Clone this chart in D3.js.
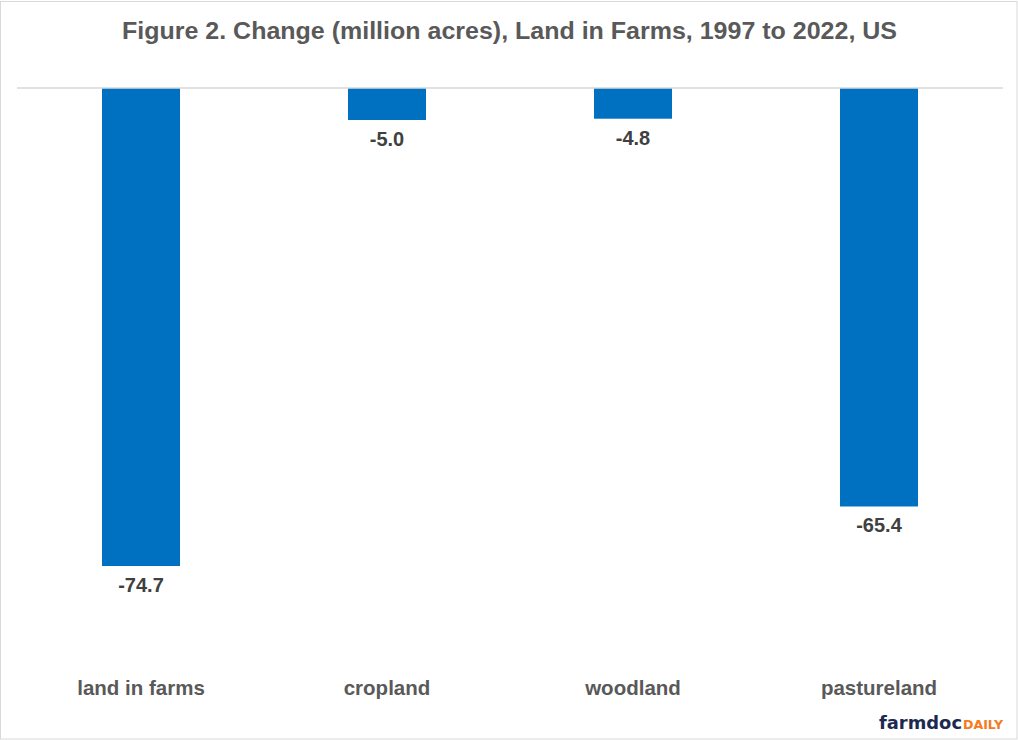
<!DOCTYPE html>
<html><head><meta charset="utf-8">
<script src="https://cdn.jsdelivr.net/npm/d3@7"></script>
<style>body{margin:0;background:#fff}svg{display:block}</style>
</head><body>
<script>
const categories = ["land in farms", "cropland", "woodland", "pastureland"];
const values = [-74.7, -5.0, -4.8, -65.4];
const labels = ["-74.7", "-5.0", "-4.8", "-65.4"];
const titleText = "Figure 2. Change (million acres), Land in Farms, 1997 to 2022, US";

const W = 1018, H = 740;
const svg = d3.select("body").append("svg").attr("width", W).attr("height", H);
svg.append("rect").attr("x", 0.5).attr("y", 1.5).attr("width", W - 1.5).attr("height", H - 2.5)
  .attr("fill", "#fff").attr("stroke", "#d9d9d9");

const x = d3.scaleBand().domain(categories).range([18, 1002]).paddingInner(0.683).paddingOuter(0.3415);
const y = d3.scaleLinear().domain([0, -74.7]).range([88, 566]);

svg.append("text").attr("x", 509.5).attr("y", 39).attr("text-anchor", "middle")
  .attr("font-family", "'Liberation Sans', Arial, sans-serif")
  .attr("textLength", 775).attr("lengthAdjust", "spacingAndGlyphs")
  .attr("font-weight", "bold").attr("font-size", 23).attr("fill", "#595959").text(titleText);

svg.selectAll("rect.bar").data(values).join("rect").attr("class", "bar")
  .attr("x", (d, i) => x(categories[i])).attr("width", x.bandwidth())
  .attr("y", y(0)).attr("height", d => y(d) - y(0)).attr("fill", "#0070c0");

svg.append("line").attr("x1", 17).attr("x2", 1003).attr("y1", 88).attr("y2", 88)
  .attr("stroke", "#d9d9d9").attr("stroke-width", 1.5);

svg.selectAll("text.val").data(values).join("text").attr("class", "val")
  .attr("x", (d, i) => x(categories[i]) + x.bandwidth() / 2).attr("y", d => y(d) + 26)
  .attr("text-anchor", "middle").attr("font-family", "'Liberation Sans', Arial, sans-serif")
  .attr("font-weight", "bold").attr("font-size", 20).attr("fill", "#404040").text((d, i) => labels[i]);

svg.selectAll("text.cat").data(categories).join("text").attr("class", "cat")
  .attr("x", d => x(d) + x.bandwidth() / 2).attr("y", 695)
  .attr("text-anchor", "middle").attr("font-family", "'Liberation Sans', Arial, sans-serif")
  .attr("font-weight", "bold").attr("font-size", 20.5).attr("fill", "#595959").text(d => d);

svg.append("text").attr("x", 879).attr("y", 729)
  .attr("font-family", "'DejaVu Sans', sans-serif").attr("font-weight", "bold")
  .attr("font-size", 17).attr("textLength", 83).attr("lengthAdjust", "spacingAndGlyphs")
  .attr("fill", "#1c2a50").text("farmdoc");
svg.append("text").attr("x", 963).attr("y", 729)
  .attr("font-family", "'DejaVu Sans', sans-serif").attr("font-weight", "bold")
  .attr("font-size", 12.5).attr("textLength", 40).attr("lengthAdjust", "spacingAndGlyphs")
  .attr("fill", "#f47b20").text("DAILY");
</script>
</body></html>
